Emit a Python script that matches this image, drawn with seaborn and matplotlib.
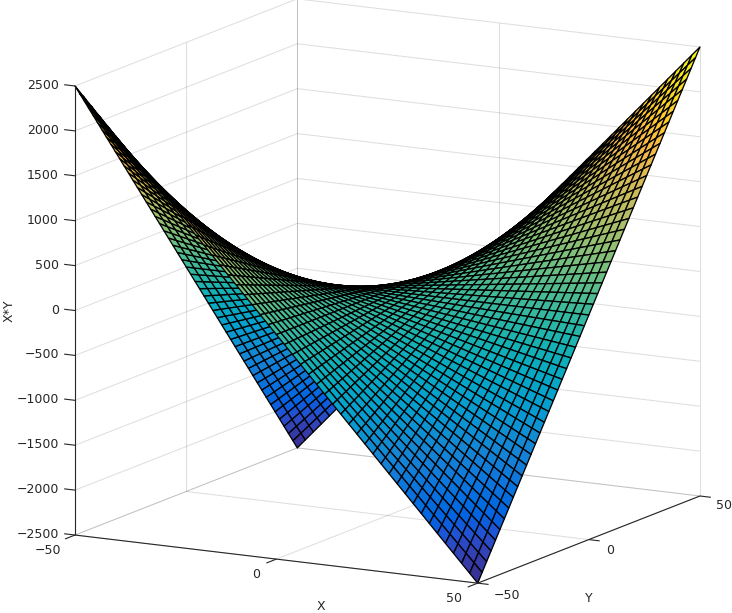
import numpy as np
import matplotlib
matplotlib.use("Agg")
import matplotlib.pyplot as plt
import seaborn as sns
from mpl_toolkits.mplot3d import proj3d

x_values = [-50, -48, -46, -44, -42, -40, -38, -36, -34, -32, -30, -28, -26, -24, -22, -20, -18, -16, -14, -12,
            -10, -8, -6, -4, -2, 0, 2, 4, 6, 8, 10, 12, 14, 16, 18, 20, 22, 24, 26, 28, 30, 32, 34, 36, 38, 40,
            42, 44, 46, 48, 50]
y_values = list(x_values)
x_ticks = [-50, 0, 50]
y_ticks = [-50, 0, 50]
z_ticks = [-2500, -2000, -1500, -1000, -500, 0, 500, 1000, 1500, 2000, 2500]

parula_colors = [
    (0.2081, 0.1663, 0.5292), (0.2123, 0.2138, 0.6270), (0.1959, 0.2645, 0.7279), (0.1253, 0.3242, 0.8303),
    (0.0117, 0.3875, 0.8820), (0.0165, 0.4266, 0.8786), (0.0498, 0.4586, 0.8641), (0.0723, 0.4887, 0.8467),
    (0.0793, 0.5200, 0.8312), (0.0641, 0.5570, 0.8240), (0.0343, 0.5966, 0.8199), (0.0239, 0.6287, 0.8038),
    (0.0228, 0.6535, 0.7768), (0.0384, 0.6743, 0.7436), (0.0843, 0.6928, 0.7062), (0.1453, 0.7098, 0.6646),
    (0.2178, 0.7250, 0.6193), (0.3022, 0.7376, 0.5712), (0.3953, 0.7459, 0.5244), (0.4871, 0.7491, 0.4840),
    (0.5709, 0.7485, 0.4494), (0.6473, 0.7456, 0.4188), (0.7184, 0.7411, 0.3905), (0.7858, 0.7356, 0.3633),
    (0.8507, 0.7299, 0.3360), (0.9139, 0.7258, 0.3063), (0.9739, 0.7314, 0.2666), (0.9990, 0.7653, 0.2164),
    (0.9880, 0.8066, 0.1794), (0.9697, 0.8481, 0.1475), (0.9589, 0.8949, 0.1132), (0.9661, 0.9514, 0.0755),
    (0.9763, 0.9831, 0.0538),
]

W, H = 732, 613
INK = "#262626"

sns.set_style("white")
plt.rcParams["font.family"] = ["DejaVu Sans"]
plt.rcParams["font.size"] = 9

parula = sns.blend_palette(parula_colors, n_colors=256, as_cmap=True)

X, Y = np.meshgrid(np.array(x_values, float), np.array(y_values, float))
Z = X * Y

fig = plt.figure(figsize=(W / 100, H / 100), dpi=100, facecolor="white")
ax = fig.add_axes([0.1, 0.1, 0.8, 0.8], projection="3d", computed_zorder=False, proj_type="ortho")
ax.view_init(elev=12.5, azim=-61.1)
ax.set_box_aspect((1, 1, 1))
ax.set_xlim(-50, 50, view_margin=0)
ax.set_ylim(-50, 50, view_margin=0)
ax.set_zlim(-2500, 2500, view_margin=0)
ax.set_axis_off()


def to_display(x, y, z):
    px, py, _ = proj3d.proj_transform(x, y, z, ax.get_proj())
    return np.array(ax.transData.transform((px, py)))


def to_2d(x, y, z):
    px, py, _ = proj3d.proj_transform(x, y, z, ax.get_proj())
    return (px, py)


# Fit the projected box onto the reference's box corners (pixels, y from top).
target_a = np.array([75.0, H - 535.0])
target_b = np.array([700.0, H - 47.0])
side = 560.0
center = np.array([W / 2, H / 2])
for _ in range(3):
    ax.set_position([(center[0] - side / 2) / W, (center[1] - side / 2) / H, side / W, side / H])
    fig.canvas.draw()
    a = to_display(-50, -50, -2500)
    b = to_display(50, 50, 2500)
    s = np.linalg.norm(target_b - target_a) / np.linalg.norm(b - a)
    mid = (a + b) / 2
    center = (target_a + target_b) / 2 - s * (mid - center)
    side *= s
ax.set_position([(center[0] - side / 2) / W, (center[1] - side / 2) / H, side / W, side / H])
fig.canvas.draw()

grid_kw = dict(color=INK, alpha=0.15, lw=0.75, zorder=1, clip_on=False, solid_capstyle="butt")
axis_kw = dict(color=INK, lw=0.8, zorder=5, clip_on=False, solid_capstyle="butt")

xl, yl, zl = (-50, 50), (-50, 50), (-2500, 2500)
# back wall x = -50
for z in z_ticks:
    ax.plot([xl[0], xl[0]], yl, [z, z], **grid_kw)
for y in y_ticks:
    ax.plot([xl[0], xl[0]], [y, y], zl, **grid_kw)
# back wall y = 50
for z in z_ticks:
    ax.plot(xl, [yl[1], yl[1]], [z, z], **grid_kw)
for x in x_ticks:
    ax.plot([x, x], [yl[1], yl[1]], zl, **grid_kw)
# floor
for x in x_ticks:
    ax.plot([x, x], yl, [zl[0], zl[0]], **grid_kw)
for y in y_ticks:
    ax.plot(xl, [y, y], [zl[0], zl[0]], **grid_kw)

surf = ax.plot_surface(X, Y, Z, rstride=1, cstride=1, cmap=parula, vmin=-2500, vmax=2500,
                       edgecolor="black", linewidth=0.95, antialiased=True, zorder=3, clip_on=False)

# axis lines
ax.plot(xl, [yl[0], yl[0]], [zl[0], zl[0]], **axis_kw)
ax.plot([xl[1], xl[1]], yl, [zl[0], zl[0]], **axis_kw)
ax.plot([xl[0], xl[0]], [yl[0], yl[0]], zl, **axis_kw)

# tick marks
for z in z_ticks:
    ax.plot([xl[0], xl[0] - 2.7], [yl[0], yl[0]], [z, z], **axis_kw)
for x in x_ticks:
    ax.plot([x, x], [yl[0], yl[0] - 4.5], [zl[0], zl[0]], **axis_kw)
for y in y_ticks:
    ax.plot([xl[1], xl[1] + 2.7], [y, y], [zl[0], zl[0]], **axis_kw)


def label(point, text, dx, dy, **kw):
    ax.annotate(text, xy=to_2d(*point), xytext=(dx, dy), textcoords="offset pixels",
                ha=kw.pop("ha", "center"), va="center", color=INK, annotation_clip=False, **kw)


for z in z_ticks:
    label((xl[0], yl[0], z), f"{z}".replace("-", "\u2212"), -16, 0.5, ha="right")

x_offsets = [(-27, -15), (-20, -15), (-24, -15)]
for x, (dx, dy) in zip(x_ticks, x_offsets):
    label((x, yl[0], zl[0]), f"{x}".replace("-", "\u2212"), dx, dy)

y_offsets = [(29, -12), (21, -11), (24, -10)]
for y, (dx, dy) in zip(y_ticks, y_offsets):
    label((xl[1], y, zl[0]), f"{y}".replace("-", "\u2212"), dx, dy)

label((0, yl[0], zl[0]), "X", 45, -47)
label((xl[1], 0, zl[0]), "Y", 0, -59)
label((xl[0], yl[0], 0), "X*Y", -66, 0, rotation=90)

fig.savefig("out.png", dpi=100, facecolor="white")
